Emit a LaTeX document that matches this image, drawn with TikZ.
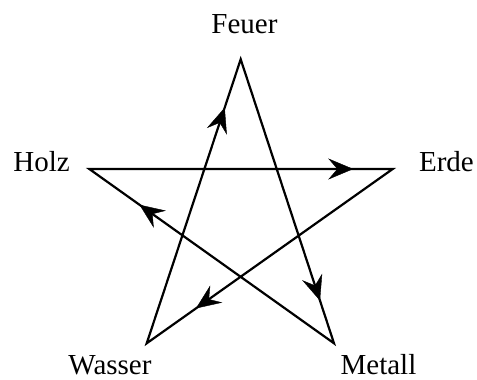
\documentclass[tikz,border=0pt]{standalone}
\usepackage{fontspec}
\setmainfont{Liberation Serif}
\usetikzlibrary{arrows.meta,decorations.markings}
\tikzset{
  star/.style={line width=2.2pt, line join=miter},
  lbl/.style={inner sep=0pt, font=\fontsize{29}{34}\selectfont},
  flowmark/.style={postaction={decorate}, decoration={markings,
    mark=at position #1 with {\arrow{Stealth[length=25pt,width=21pt,inset=9pt]}}}}
}
\begin{document}
\begin{tikzpicture}[x=1pt,y=-1pt]
\useasboundingbox (0,0) rectangle (477,380);
\coordinate (F) at (240.7,59.3);
\coordinate (E) at (392.7,169);
\coordinate (M) at (334,343.3);
\coordinate (W) at (146.7,343.3);
\coordinate (H) at (89.3,169);
\node[lbl, anchor=base] (tF) at (244.5,33.3) {Feuer};
\node[lbl, anchor=base east] (tH) at (70,171.5) {Holz};
\node[lbl, anchor=base east] (tE) at (474,171.5) {Erde};
\node[lbl, anchor=base] (tW) at (110,374.5) {Wasser};
\node[lbl, anchor=base] (tM) at (378.5,374.5) {Metall};
\draw[star] (W) -- (F) -- (M) -- (H) -- (E) -- cycle;
\path[flowmark=0.83] (W) -- (F);
\path[flowmark=0.85] (F) -- (M);
\path[flowmark=0.795] (M) -- (H);
\path[flowmark=0.87] (H) -- (E);
\path[flowmark=0.80] (E) -- (W);
\end{tikzpicture}
\end{document}
